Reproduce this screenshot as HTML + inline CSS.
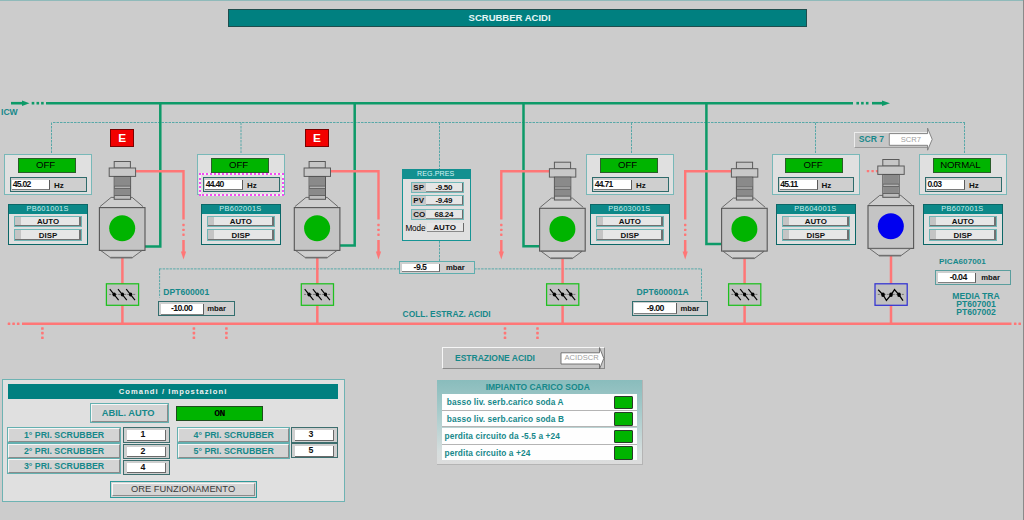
<!DOCTYPE html>
<html><head><meta charset="utf-8"><title>Scrubber Acidi</title>
<style>
html,body{margin:0;padding:0;background:#cccccc;}
#root{position:relative;width:1024px;height:520px;overflow:hidden;background:#cccccc;font-family:"Liberation Sans", sans-serif;}

</style></head><body>
<div id="root">
<div style="position:absolute;left:0;top:0;width:1024px;height:1px;background:#8fbaba"></div>
<div style="position:absolute;left:1023px;top:0;width:1px;height:520px;background:#8a8a8a"></div>
<svg width="1024" height="520" viewBox="0 0 1024 520" style="position:absolute;left:0;top:0"><defs><linearGradient id="bodyg" x1="0" x2="1" y1="0" y2="0"><stop offset="0" stop-color="#b9b9b9"/><stop offset="0.35" stop-color="#c6c6c6"/><stop offset="1" stop-color="#c8c8c8"/></linearGradient></defs><line x1="11" y1="103.2" x2="23" y2="103.2" stroke="#0d9a68" stroke-width="2.6"/><polygon points="22,100.4 29.5,103.2 22,106" fill="#0d9a68"/><rect x="31.7" y="101.9" width="2.6" height="2.6" fill="#0d9a68"/><rect x="36.5" y="101.9" width="2.6" height="2.6" fill="#0d9a68"/><rect x="41.1" y="101.9" width="2.6" height="2.6" fill="#0d9a68"/><line x1="46" y1="103.2" x2="853" y2="103.2" stroke="#0d9a68" stroke-width="2.6"/><rect x="856.4000000000001" y="101.9" width="2.6" height="2.6" fill="#0d9a68"/><rect x="861.1" y="101.9" width="2.6" height="2.6" fill="#0d9a68"/><rect x="865.9000000000001" y="101.9" width="2.6" height="2.6" fill="#0d9a68"/><line x1="872" y1="103.2" x2="883" y2="103.2" stroke="#0d9a68" stroke-width="2.6"/><polygon points="882,100.4 890,103.2 882,106" fill="#0d9a68"/><line x1="53" y1="122.5" x2="965" y2="122.5" stroke="#58a8a8" stroke-width="1" stroke-dasharray="2.5,1"/><line x1="51.5" y1="122.5" x2="51.5" y2="154" stroke="#58a8a8" stroke-width="1" stroke-dasharray="2.5,1"/><line x1="241" y1="122.5" x2="241" y2="154" stroke="#58a8a8" stroke-width="1" stroke-dasharray="2.5,1"/><line x1="439.5" y1="122.5" x2="439.5" y2="169" stroke="#58a8a8" stroke-width="1" stroke-dasharray="2.5,1"/><line x1="631.5" y1="122.5" x2="631.5" y2="154" stroke="#58a8a8" stroke-width="1" stroke-dasharray="2.5,1"/><line x1="815.5" y1="122.5" x2="815.5" y2="154" stroke="#58a8a8" stroke-width="1" stroke-dasharray="2.5,1"/><line x1="964.5" y1="122.5" x2="964.5" y2="154" stroke="#58a8a8" stroke-width="1" stroke-dasharray="2.5,1"/><line x1="159.1" y1="268.9" x2="702" y2="268.9" stroke="#58a8a8" stroke-width="1" stroke-dasharray="2.5,1"/><line x1="159.6" y1="269" x2="159.6" y2="297.5" stroke="#58a8a8" stroke-width="1" stroke-dasharray="2.5,1"/><line x1="701.5" y1="268.9" x2="701.5" y2="300.6" stroke="#58a8a8" stroke-width="1" stroke-dasharray="2.5,1"/><line x1="439.5" y1="241" x2="439.5" y2="261" stroke="#58a8a8" stroke-width="1" stroke-dasharray="2.5,1"/><line x1="22" y1="323.8" x2="1011.5" y2="323.8" stroke="#ff7676" stroke-width="2.5"/><rect x="7.7" y="322.5" width="2.6" height="2.6" rx="0.6" fill="#ff7676"/><rect x="12.299999999999999" y="322.5" width="2.6" height="2.6" rx="0.6" fill="#ff7676"/><rect x="16.9" y="322.5" width="2.6" height="2.6" rx="0.6" fill="#ff7676"/><rect x="1013.9000000000001" y="322.5" width="2.6" height="2.6" rx="0.6" fill="#ff7676"/><rect x="1018.4000000000001" y="322.5" width="2.6" height="2.6" rx="0.6" fill="#ff7676"/><rect x="41.1" y="327.2" width="2.6" height="2.6" rx="0.6" fill="#ff7676"/><rect x="41.1" y="331.8" width="2.6" height="2.6" rx="0.6" fill="#ff7676"/><rect x="41.1" y="336.4" width="2.6" height="2.6" rx="0.6" fill="#ff7676"/><rect x="192.6" y="327.2" width="2.6" height="2.6" rx="0.6" fill="#ff7676"/><rect x="192.6" y="331.8" width="2.6" height="2.6" rx="0.6" fill="#ff7676"/><rect x="192.6" y="336.4" width="2.6" height="2.6" rx="0.6" fill="#ff7676"/><rect x="225.1" y="327.2" width="2.6" height="2.6" rx="0.6" fill="#ff7676"/><rect x="225.1" y="331.8" width="2.6" height="2.6" rx="0.6" fill="#ff7676"/><rect x="225.1" y="336.4" width="2.6" height="2.6" rx="0.6" fill="#ff7676"/><rect x="503.7" y="327.2" width="2.6" height="2.6" rx="0.6" fill="#ff7676"/><rect x="503.7" y="331.8" width="2.6" height="2.6" rx="0.6" fill="#ff7676"/><rect x="503.7" y="336.4" width="2.6" height="2.6" rx="0.6" fill="#ff7676"/><rect x="536.2" y="327.2" width="2.6" height="2.6" rx="0.6" fill="#ff7676"/><rect x="536.2" y="331.8" width="2.6" height="2.6" rx="0.6" fill="#ff7676"/><rect x="536.2" y="336.4" width="2.6" height="2.6" rx="0.6" fill="#ff7676"/><polyline points="160.3,101.9 160.3,246.4 145.0,246.4" fill="none" stroke="#0d9a68" stroke-width="2.5"/><polyline points="135.6,171.2 183.5,171.2 183.5,219.5" fill="none" stroke="#ff7676" stroke-width="2.4"/><rect x="182.3" y="223.8" width="2.4" height="2.4" rx="0.6" fill="#ff7676"/><rect x="182.3" y="228.70000000000002" width="2.4" height="2.4" rx="0.6" fill="#ff7676"/><rect x="182.3" y="233.5" width="2.4" height="2.4" rx="0.6" fill="#ff7676"/><line x1="183.5" y1="240" x2="183.5" y2="252" stroke="#ff7676" stroke-width="2.5"/><polygon points="180.9,251.5 186.1,251.5 183.5,259.5" fill="#ff7676"/><line x1="122.4" y1="257" x2="122.4" y2="323.8" stroke="#ff7676" stroke-width="2.5"/><polygon points="111.10000000000001,197.4 132.20000000000002,197.4 143.0,207.4 100.0,207.4" fill="#cecece"/><polyline points="114.4,197.4 111.10000000000001,197.4 100.0,206.6" fill="none" stroke="#5e5e5e" stroke-width="0.9"/><polyline points="130.4,197.4 132.20000000000002,197.4 143.0,206.6" fill="none" stroke="#5e5e5e" stroke-width="0.9"/><rect x="114.2" y="161.5" width="16.2" height="6.6" fill="#c6c6c6" stroke="#5a5a5a" stroke-width="1"/><rect x="109.2" y="168" width="26.4" height="8.4" fill="#c8c8c8" stroke="#5a5a5a" stroke-width="1"/><rect x="114.2" y="176.5" width="16.4" height="22.8" fill="#bdbdbd" stroke="#555" stroke-width="1"/><rect x="114.7" y="177" width="15.4" height="9" fill="#8a8a8a"/><rect x="114.7" y="188.3" width="15.4" height="7.2" fill="#8a8a8a"/><line x1="114.4" y1="186.2" x2="130.4" y2="186.2" stroke="#555" stroke-width="0.8"/><line x1="114.4" y1="188.4" x2="130.4" y2="188.4" stroke="#555" stroke-width="0.8"/><line x1="114.4" y1="195.5" x2="130.4" y2="195.5" stroke="#555" stroke-width="0.8"/><rect x="99.4" y="207.6" width="45.6" height="42.8" fill="#c4c4c4" stroke="#555" stroke-width="1.1"/><polygon points="100.9,250.6 141.9,250.6 132.4,257.6 110.4,257.6" fill="#cfcfcf" stroke="#606060" stroke-width="0.9"/><line x1="110.4" y1="257.6" x2="132.4" y2="257.6" stroke="#707070" stroke-width="1.6"/><circle cx="122.2" cy="228.2" r="13" fill="#00b400"/><rect x="106.4" y="283.8" width="32.2" height="21.5" fill="#c0c0c0" stroke="#1ec01e" stroke-width="1.25"/><line x1="109.2" y1="294.4" x2="135.2" y2="294.4" stroke="#666" stroke-width="0.9" stroke-dasharray="2,1"/><line x1="109.8" y1="289.2" x2="118.60000000000001" y2="300.2" stroke="#000" stroke-width="1.1"/><ellipse cx="114.2" cy="294.5" rx="1.7" ry="2.1" fill="#000"/><line x1="118.0" y1="289.2" x2="126.80000000000001" y2="300.2" stroke="#000" stroke-width="1.1"/><ellipse cx="122.4" cy="294.5" rx="1.7" ry="2.1" fill="#000"/><line x1="126.19999999999999" y1="289.2" x2="135.0" y2="300.2" stroke="#000" stroke-width="1.1"/><ellipse cx="130.6" cy="294.5" rx="1.7" ry="2.1" fill="#000"/><polyline points="354.7,101.9 354.7,245.4 339.90000000000003,245.4" fill="none" stroke="#0d9a68" stroke-width="2.5"/><polyline points="330.5,171.2 378.5,171.2 378.5,219.5" fill="none" stroke="#ff7676" stroke-width="2.4"/><rect x="377.3" y="223.8" width="2.4" height="2.4" rx="0.6" fill="#ff7676"/><rect x="377.3" y="228.70000000000002" width="2.4" height="2.4" rx="0.6" fill="#ff7676"/><rect x="377.3" y="233.5" width="2.4" height="2.4" rx="0.6" fill="#ff7676"/><line x1="378.5" y1="240" x2="378.5" y2="252" stroke="#ff7676" stroke-width="2.5"/><polygon points="375.9,251.5 381.1,251.5 378.5,259.5" fill="#ff7676"/><line x1="317.3" y1="257" x2="317.3" y2="323.8" stroke="#ff7676" stroke-width="2.5"/><polygon points="306.0,197.4 327.1,197.4 337.90000000000003,207.4 294.90000000000003,207.4" fill="#cecece"/><polyline points="309.3,197.4 306.0,197.4 294.90000000000003,206.6" fill="none" stroke="#5e5e5e" stroke-width="0.9"/><polyline points="325.3,197.4 327.1,197.4 337.90000000000003,206.6" fill="none" stroke="#5e5e5e" stroke-width="0.9"/><rect x="309.1" y="161.5" width="16.2" height="6.6" fill="#c6c6c6" stroke="#5a5a5a" stroke-width="1"/><rect x="304.1" y="168" width="26.4" height="8.4" fill="#c8c8c8" stroke="#5a5a5a" stroke-width="1"/><rect x="309.1" y="176.5" width="16.4" height="22.8" fill="#bdbdbd" stroke="#555" stroke-width="1"/><rect x="309.6" y="177" width="15.4" height="9" fill="#8a8a8a"/><rect x="309.6" y="188.3" width="15.4" height="7.2" fill="#8a8a8a"/><line x1="309.3" y1="186.2" x2="325.3" y2="186.2" stroke="#555" stroke-width="0.8"/><line x1="309.3" y1="188.4" x2="325.3" y2="188.4" stroke="#555" stroke-width="0.8"/><line x1="309.3" y1="195.5" x2="325.3" y2="195.5" stroke="#555" stroke-width="0.8"/><rect x="294.3" y="207.6" width="45.6" height="42.8" fill="#c4c4c4" stroke="#555" stroke-width="1.1"/><polygon points="295.8,250.6 336.8,250.6 327.3,257.6 305.3,257.6" fill="#cfcfcf" stroke="#606060" stroke-width="0.9"/><line x1="305.3" y1="257.6" x2="327.3" y2="257.6" stroke="#707070" stroke-width="1.6"/><circle cx="317.1" cy="228.2" r="13" fill="#00b400"/><rect x="301.3" y="283.8" width="32.2" height="21.5" fill="#c0c0c0" stroke="#1ec01e" stroke-width="1.25"/><line x1="304.1" y1="294.4" x2="330.1" y2="294.4" stroke="#666" stroke-width="0.9" stroke-dasharray="2,1"/><line x1="304.70000000000005" y1="289.2" x2="313.5" y2="300.2" stroke="#000" stroke-width="1.1"/><ellipse cx="309.1" cy="294.5" rx="1.7" ry="2.1" fill="#000"/><line x1="312.90000000000003" y1="289.2" x2="321.7" y2="300.2" stroke="#000" stroke-width="1.1"/><ellipse cx="317.3" cy="294.5" rx="1.7" ry="2.1" fill="#000"/><line x1="321.1" y1="289.2" x2="329.9" y2="300.2" stroke="#000" stroke-width="1.1"/><ellipse cx="325.5" cy="294.5" rx="1.7" ry="2.1" fill="#000"/><polyline points="523.5,101.9 523.5,246.2 539.4,246.2" fill="none" stroke="#0d9a68" stroke-width="2.5"/><polyline points="549.4,171.2 501.3,171.2 501.3,219.5" fill="none" stroke="#ff7676" stroke-width="2.4"/><rect x="500.1" y="223.8" width="2.4" height="2.4" rx="0.6" fill="#ff7676"/><rect x="500.1" y="228.70000000000002" width="2.4" height="2.4" rx="0.6" fill="#ff7676"/><rect x="500.1" y="233.5" width="2.4" height="2.4" rx="0.6" fill="#ff7676"/><line x1="501.3" y1="240" x2="501.3" y2="252" stroke="#ff7676" stroke-width="2.5"/><polygon points="498.7,251.5 503.90000000000003,251.5 501.3,259.5" fill="#ff7676"/><line x1="562.6" y1="257.7" x2="562.6" y2="323.8" stroke="#ff7676" stroke-width="2.5"/><polygon points="551.3000000000001,198.1 572.4,198.1 583.2,208.1 540.2,208.1" fill="#cecece"/><polyline points="554.6,198.1 551.3000000000001,198.1 540.2,207.29999999999998" fill="none" stroke="#5e5e5e" stroke-width="0.9"/><polyline points="570.6,198.1 572.4,198.1 583.2,207.29999999999998" fill="none" stroke="#5e5e5e" stroke-width="0.9"/><rect x="554.4" y="162.2" width="16.2" height="6.6" fill="#c6c6c6" stroke="#5a5a5a" stroke-width="1"/><rect x="549.4" y="168.7" width="26.4" height="8.4" fill="#c8c8c8" stroke="#5a5a5a" stroke-width="1"/><rect x="554.4" y="177.2" width="16.4" height="22.8" fill="#bdbdbd" stroke="#555" stroke-width="1"/><rect x="554.9" y="177.7" width="15.4" height="9" fill="#8a8a8a"/><rect x="554.9" y="189.0" width="15.4" height="7.2" fill="#8a8a8a"/><line x1="554.6" y1="186.89999999999998" x2="570.6" y2="186.89999999999998" stroke="#555" stroke-width="0.8"/><line x1="554.6" y1="189.1" x2="570.6" y2="189.1" stroke="#555" stroke-width="0.8"/><line x1="554.6" y1="196.2" x2="570.6" y2="196.2" stroke="#555" stroke-width="0.8"/><rect x="539.6" y="208.29999999999998" width="45.6" height="42.8" fill="#c4c4c4" stroke="#555" stroke-width="1.1"/><polygon points="541.1,251.29999999999998 582.1,251.29999999999998 572.6,258.3 550.6,258.3" fill="#cfcfcf" stroke="#606060" stroke-width="0.9"/><line x1="550.6" y1="258.3" x2="572.6" y2="258.3" stroke="#707070" stroke-width="1.6"/><circle cx="562.4" cy="228.89999999999998" r="13" fill="#00b400"/><rect x="546.6" y="283.8" width="32.2" height="21.5" fill="#c0c0c0" stroke="#1ec01e" stroke-width="1.25"/><line x1="549.4" y1="294.4" x2="575.4" y2="294.4" stroke="#666" stroke-width="0.9" stroke-dasharray="2,1"/><line x1="550.0" y1="289.2" x2="558.8" y2="300.2" stroke="#000" stroke-width="1.1"/><ellipse cx="554.4" cy="294.5" rx="1.7" ry="2.1" fill="#000"/><line x1="558.2" y1="289.2" x2="567.0" y2="300.2" stroke="#000" stroke-width="1.1"/><ellipse cx="562.6" cy="294.5" rx="1.7" ry="2.1" fill="#000"/><line x1="566.4000000000001" y1="289.2" x2="575.2" y2="300.2" stroke="#000" stroke-width="1.1"/><ellipse cx="570.8000000000001" cy="294.5" rx="1.7" ry="2.1" fill="#000"/><polyline points="706.4,101.9 706.4,244.0 721.4,244.0" fill="none" stroke="#0d9a68" stroke-width="2.5"/><polyline points="731.4,171.2 685.2,171.2 685.2,219.5" fill="none" stroke="#ff7676" stroke-width="2.4"/><rect x="684.0" y="223.8" width="2.4" height="2.4" rx="0.6" fill="#ff7676"/><rect x="684.0" y="228.70000000000002" width="2.4" height="2.4" rx="0.6" fill="#ff7676"/><rect x="684.0" y="233.5" width="2.4" height="2.4" rx="0.6" fill="#ff7676"/><line x1="685.2" y1="240" x2="685.2" y2="252" stroke="#ff7676" stroke-width="2.5"/><polygon points="682.6,251.5 687.8000000000001,251.5 685.2,259.5" fill="#ff7676"/><line x1="744.6" y1="257.7" x2="744.6" y2="323.8" stroke="#ff7676" stroke-width="2.5"/><polygon points="733.3000000000001,198.1 754.4,198.1 765.2,208.1 722.2,208.1" fill="#cecece"/><polyline points="736.6,198.1 733.3000000000001,198.1 722.2,207.29999999999998" fill="none" stroke="#5e5e5e" stroke-width="0.9"/><polyline points="752.6,198.1 754.4,198.1 765.2,207.29999999999998" fill="none" stroke="#5e5e5e" stroke-width="0.9"/><rect x="736.4" y="162.2" width="16.2" height="6.6" fill="#c6c6c6" stroke="#5a5a5a" stroke-width="1"/><rect x="731.4" y="168.7" width="26.4" height="8.4" fill="#c8c8c8" stroke="#5a5a5a" stroke-width="1"/><rect x="736.4" y="177.2" width="16.4" height="22.8" fill="#bdbdbd" stroke="#555" stroke-width="1"/><rect x="736.9" y="177.7" width="15.4" height="9" fill="#8a8a8a"/><rect x="736.9" y="189.0" width="15.4" height="7.2" fill="#8a8a8a"/><line x1="736.6" y1="186.89999999999998" x2="752.6" y2="186.89999999999998" stroke="#555" stroke-width="0.8"/><line x1="736.6" y1="189.1" x2="752.6" y2="189.1" stroke="#555" stroke-width="0.8"/><line x1="736.6" y1="196.2" x2="752.6" y2="196.2" stroke="#555" stroke-width="0.8"/><rect x="721.6" y="208.29999999999998" width="45.6" height="42.8" fill="#c4c4c4" stroke="#555" stroke-width="1.1"/><polygon points="723.1,251.29999999999998 764.1,251.29999999999998 754.6,258.3 732.6,258.3" fill="#cfcfcf" stroke="#606060" stroke-width="0.9"/><line x1="732.6" y1="258.3" x2="754.6" y2="258.3" stroke="#707070" stroke-width="1.6"/><circle cx="744.4" cy="228.89999999999998" r="13" fill="#00b400"/><rect x="728.6" y="283.8" width="32.2" height="21.5" fill="#c0c0c0" stroke="#1ec01e" stroke-width="1.25"/><line x1="731.4" y1="294.4" x2="757.4" y2="294.4" stroke="#666" stroke-width="0.9" stroke-dasharray="2,1"/><line x1="732.0" y1="289.2" x2="740.8" y2="300.2" stroke="#000" stroke-width="1.1"/><ellipse cx="736.4" cy="294.5" rx="1.7" ry="2.1" fill="#000"/><line x1="740.2" y1="289.2" x2="749.0" y2="300.2" stroke="#000" stroke-width="1.1"/><ellipse cx="744.6" cy="294.5" rx="1.7" ry="2.1" fill="#000"/><line x1="748.4000000000001" y1="289.2" x2="757.2" y2="300.2" stroke="#000" stroke-width="1.1"/><ellipse cx="752.8000000000001" cy="294.5" rx="1.7" ry="2.1" fill="#000"/><rect x="866.8" y="169.9" width="2.4" height="2.4" rx="0.6" fill="#ff7676"/><rect x="871.4" y="169.9" width="2.4" height="2.4" rx="0.6" fill="#ff7676"/><rect x="875.9" y="169.9" width="2.4" height="2.4" rx="0.6" fill="#ff7676"/><line x1="891.0" y1="255" x2="891.0" y2="323.8" stroke="#ff7676" stroke-width="2.5"/><polygon points="879.7,195.4 900.8,195.4 911.6,205.4 868.6,205.4" fill="#cecece"/><polyline points="883.0,195.4 879.7,195.4 868.6,204.6" fill="none" stroke="#5e5e5e" stroke-width="0.9"/><polyline points="899.0,195.4 900.8,195.4 911.6,204.6" fill="none" stroke="#5e5e5e" stroke-width="0.9"/><rect x="882.8" y="159.5" width="16.2" height="6.6" fill="#c6c6c6" stroke="#5a5a5a" stroke-width="1"/><rect x="877.8" y="166" width="26.4" height="8.4" fill="#c8c8c8" stroke="#5a5a5a" stroke-width="1"/><rect x="882.8" y="174.5" width="16.4" height="22.8" fill="#bdbdbd" stroke="#555" stroke-width="1"/><rect x="883.3" y="175" width="15.4" height="9" fill="#8a8a8a"/><rect x="883.3" y="186.3" width="15.4" height="7.2" fill="#8a8a8a"/><line x1="883.0" y1="184.2" x2="899.0" y2="184.2" stroke="#555" stroke-width="0.8"/><line x1="883.0" y1="186.4" x2="899.0" y2="186.4" stroke="#555" stroke-width="0.8"/><line x1="883.0" y1="193.5" x2="899.0" y2="193.5" stroke="#555" stroke-width="0.8"/><rect x="868.0" y="205.6" width="45.6" height="42.8" fill="#c4c4c4" stroke="#555" stroke-width="1.1"/><polygon points="869.5,248.6 910.5,248.6 901.0,255.60000000000002 879.0,255.60000000000002" fill="#cfcfcf" stroke="#606060" stroke-width="0.9"/><line x1="879.0" y1="255.60000000000002" x2="901.0" y2="255.60000000000002" stroke="#707070" stroke-width="1.6"/><circle cx="890.8" cy="226.2" r="13" fill="#0000f0"/><rect x="875.0" y="283.8" width="32.2" height="21.5" fill="#c0c0c0" stroke="#3232d2" stroke-width="1.25"/><line x1="877.8" y1="294.4" x2="903.8" y2="294.4" stroke="#666" stroke-width="0.9" stroke-dasharray="2,1"/><polyline points="878.2,289.8 883.0,294.8 886.4,300.4 891.0,294.8 894.5,289.6 899.0,294.8 903.0,300.6" fill="none" stroke="#000" stroke-width="1.25"/><ellipse cx="883.0" cy="294.8" rx="1.8" ry="2.2" fill="#000"/><ellipse cx="891.0" cy="294.8" rx="1.8" ry="2.2" fill="#000"/><ellipse cx="899.0" cy="294.8" rx="1.8" ry="2.2" fill="#000"/></svg>
<div style="position:absolute;left:110.4px;top:129.2px;width:23.4px;height:17.4px;background:#f20000;border:1px solid #7a0000;box-sizing:border-box;"></div><div style="position:absolute;left:110.4px;top:133.1px;width:23.4px;text-align:center;font-size:11.8px;font-weight:bold;color:#fff;line-height:1;white-space:nowrap;">E</div><div style="position:absolute;left:305.3px;top:129.2px;width:23.4px;height:17.4px;background:#f20000;border:1px solid #7a0000;box-sizing:border-box;"></div><div style="position:absolute;left:305.3px;top:133.1px;width:23.4px;text-align:center;font-size:11.8px;font-weight:bold;color:#fff;line-height:1;white-space:nowrap;">E</div><div style="position:absolute;left:4.3px;top:154.3px;width:88px;height:41px;background:#e0e0e0;border:1px solid #78b8b8;box-sizing:border-box;"></div><div style="position:absolute;left:17.6px;top:157.7px;width:58.4px;height:15px;background:#00b400;border:1px solid #2b5d2b;box-sizing:border-box;"></div><div style="position:absolute;left:16.4px;top:159.9px;width:58.2px;text-align:center;font-size:9.6px;font-weight:normal;color:#000;line-height:1;white-space:nowrap;letter-spacing:-0.1px;">OFF</div><div style="position:absolute;left:10.1px;top:177.2px;width:76.6px;height:14.6px;background:#cfcfcf;border:1.3px solid #2f6b6b;box-sizing:border-box;"></div><div style="position:absolute;left:12.3px;top:179.8px;width:38px;height:10px;background:#fff;border-right:1.2px solid #5a5a5a;border-bottom:1.2px solid #7a7a7a;box-sizing:border-box;"></div><div style="position:absolute;left:12.7px;top:180.4px;font-size:8.6px;font-weight:bold;color:#111;line-height:1;white-space:nowrap;letter-spacing:-0.75px;">45.02</div><div style="position:absolute;left:54.099999999999994px;top:181.5px;font-size:8px;font-weight:bold;color:#111;line-height:1;white-space:nowrap;">Hz</div><div style="position:absolute;left:197.3px;top:154.3px;width:88px;height:41px;background:#e0e0e0;border:1px solid #78b8b8;box-sizing:border-box;"></div><div style="position:absolute;left:210.60000000000002px;top:157.7px;width:58.4px;height:15px;background:#00b400;border:1px solid #2b5d2b;box-sizing:border-box;"></div><div style="position:absolute;left:209.4px;top:159.9px;width:58.2px;text-align:center;font-size:9.6px;font-weight:normal;color:#000;line-height:1;white-space:nowrap;letter-spacing:-0.1px;">OFF</div><div style="position:absolute;left:199.0px;top:173.2px;width:85.2px;height:22.6px;border:2px solid #f2f2f2;box-sizing:border-box;"></div><div style="position:absolute;left:199.0px;top:173.2px;width:85.2px;height:22.6px;border:2px dotted #f24cf2;box-sizing:border-box;"></div><div style="position:absolute;left:203.10000000000002px;top:177.2px;width:76.6px;height:14.6px;background:#cfcfcf;border:1.3px solid #2f6b6b;box-sizing:border-box;"></div><div style="position:absolute;left:205.3px;top:179.8px;width:38px;height:10px;background:#fff;border-right:1.2px solid #5a5a5a;border-bottom:1.2px solid #7a7a7a;box-sizing:border-box;"></div><div style="position:absolute;left:205.70000000000002px;top:180.4px;font-size:8.6px;font-weight:bold;color:#111;line-height:1;white-space:nowrap;letter-spacing:-0.75px;">44.40</div><div style="position:absolute;left:247.10000000000002px;top:181.5px;font-size:8px;font-weight:bold;color:#111;line-height:1;white-space:nowrap;">Hz</div><div style="position:absolute;left:586.3px;top:154.3px;width:88px;height:41px;background:#e0e0e0;border:1px solid #78b8b8;box-sizing:border-box;"></div><div style="position:absolute;left:599.5999999999999px;top:157.7px;width:58.4px;height:15px;background:#00b400;border:1px solid #2b5d2b;box-sizing:border-box;"></div><div style="position:absolute;left:598.4px;top:159.9px;width:58.2px;text-align:center;font-size:9.6px;font-weight:normal;color:#000;line-height:1;white-space:nowrap;letter-spacing:-0.1px;">OFF</div><div style="position:absolute;left:592.0999999999999px;top:177.2px;width:76.6px;height:14.6px;background:#cfcfcf;border:1.3px solid #2f6b6b;box-sizing:border-box;"></div><div style="position:absolute;left:594.3px;top:179.8px;width:38px;height:10px;background:#fff;border-right:1.2px solid #5a5a5a;border-bottom:1.2px solid #7a7a7a;box-sizing:border-box;"></div><div style="position:absolute;left:594.6999999999999px;top:180.4px;font-size:8.6px;font-weight:bold;color:#111;line-height:1;white-space:nowrap;letter-spacing:-0.75px;">44.71</div><div style="position:absolute;left:636.0999999999999px;top:181.5px;font-size:8px;font-weight:bold;color:#111;line-height:1;white-space:nowrap;">Hz</div><div style="position:absolute;left:771.8px;top:154.3px;width:88px;height:41px;background:#e0e0e0;border:1px solid #78b8b8;box-sizing:border-box;"></div><div style="position:absolute;left:785.0999999999999px;top:157.7px;width:58.4px;height:15px;background:#00b400;border:1px solid #2b5d2b;box-sizing:border-box;"></div><div style="position:absolute;left:783.9px;top:159.9px;width:58.2px;text-align:center;font-size:9.6px;font-weight:normal;color:#000;line-height:1;white-space:nowrap;letter-spacing:-0.1px;">OFF</div><div style="position:absolute;left:777.5999999999999px;top:177.2px;width:76.6px;height:14.6px;background:#cfcfcf;border:1.3px solid #2f6b6b;box-sizing:border-box;"></div><div style="position:absolute;left:779.8px;top:179.8px;width:38px;height:10px;background:#fff;border-right:1.2px solid #5a5a5a;border-bottom:1.2px solid #7a7a7a;box-sizing:border-box;"></div><div style="position:absolute;left:780.1999999999999px;top:180.4px;font-size:8.6px;font-weight:bold;color:#111;line-height:1;white-space:nowrap;letter-spacing:-0.75px;">45.11</div><div style="position:absolute;left:821.5999999999999px;top:181.5px;font-size:8px;font-weight:bold;color:#111;line-height:1;white-space:nowrap;">Hz</div><div style="position:absolute;left:919.2px;top:154.3px;width:88px;height:41px;background:#e0e0e0;border:1px solid #78b8b8;box-sizing:border-box;"></div><div style="position:absolute;left:932.5px;top:157.7px;width:58.4px;height:15px;background:#00b400;border:1px solid #2b5d2b;box-sizing:border-box;"></div><div style="position:absolute;left:931.3000000000001px;top:159.9px;width:58.2px;text-align:center;font-size:9.6px;font-weight:normal;color:#000;line-height:1;white-space:nowrap;letter-spacing:-0.1px;">NORMAL</div><div style="position:absolute;left:925.0px;top:177.2px;width:76.6px;height:14.6px;background:#cfcfcf;border:1.3px solid #2f6b6b;box-sizing:border-box;"></div><div style="position:absolute;left:927.2px;top:179.8px;width:38px;height:10px;background:#fff;border-right:1.2px solid #5a5a5a;border-bottom:1.2px solid #7a7a7a;box-sizing:border-box;"></div><div style="position:absolute;left:927.6px;top:180.4px;font-size:8.6px;font-weight:bold;color:#111;line-height:1;white-space:nowrap;letter-spacing:-0.75px;">0.03</div><div style="position:absolute;left:969.0px;top:181.5px;font-size:8px;font-weight:bold;color:#111;line-height:1;white-space:nowrap;">Hz</div><div style="position:absolute;left:8.2px;top:203.6px;width:80px;height:41.2px;background:#e0e0e0;border:1.3px solid #0b6767;box-sizing:border-box;"></div><div style="position:absolute;left:9.2px;top:204.6px;width:78px;height:9.5px;background:#0c8888;"></div><div style="position:absolute;left:7.6px;top:204.9px;width:80px;text-align:center;font-size:7.4px;font-weight:normal;color:#cdeeee;line-height:1;white-space:nowrap;letter-spacing:0.33px;">PB601001S</div><div style="position:absolute;left:14.2px;top:215.6px;width:67.6px;height:11.6px;background:#e6e6e6;border:1px solid #6fb6b6;box-sizing:border-box;"></div><div style="position:absolute;left:15.2px;top:216.6px;width:5.5px;height:9.6px;background:#c4c4c4;"></div><div style="position:absolute;left:15.2px;top:224.79999999999998px;width:65.6px;height:1.4px;background:#707070;"></div><div style="position:absolute;left:79.4px;top:216.6px;width:1.4px;height:9.6px;background:#707070;"></div><div style="position:absolute;left:14.2px;top:217.79999999999998px;width:67.6px;text-align:center;font-size:7.9px;font-weight:bold;color:#111;line-height:1;white-space:nowrap;">AUTO</div><div style="position:absolute;left:14.2px;top:229.4px;width:67.6px;height:11.6px;background:#e6e6e6;border:1px solid #6fb6b6;box-sizing:border-box;"></div><div style="position:absolute;left:15.2px;top:230.4px;width:5.5px;height:9.6px;background:#c4c4c4;"></div><div style="position:absolute;left:15.2px;top:238.6px;width:65.6px;height:1.4px;background:#707070;"></div><div style="position:absolute;left:79.4px;top:230.4px;width:1.4px;height:9.6px;background:#707070;"></div><div style="position:absolute;left:14.2px;top:231.6px;width:67.6px;text-align:center;font-size:7.9px;font-weight:bold;color:#111;line-height:1;white-space:nowrap;">DISP</div><div style="position:absolute;left:201px;top:203.6px;width:80px;height:41.2px;background:#e0e0e0;border:1.3px solid #0b6767;box-sizing:border-box;"></div><div style="position:absolute;left:202px;top:204.6px;width:78px;height:9.5px;background:#0c8888;"></div><div style="position:absolute;left:200.4px;top:204.9px;width:80px;text-align:center;font-size:7.4px;font-weight:normal;color:#cdeeee;line-height:1;white-space:nowrap;letter-spacing:0.33px;">PB602001S</div><div style="position:absolute;left:207px;top:215.6px;width:67.6px;height:11.6px;background:#e6e6e6;border:1px solid #6fb6b6;box-sizing:border-box;"></div><div style="position:absolute;left:208px;top:216.6px;width:5.5px;height:9.6px;background:#c4c4c4;"></div><div style="position:absolute;left:208px;top:224.79999999999998px;width:65.6px;height:1.4px;background:#707070;"></div><div style="position:absolute;left:272.2px;top:216.6px;width:1.4px;height:9.6px;background:#707070;"></div><div style="position:absolute;left:207px;top:217.79999999999998px;width:67.6px;text-align:center;font-size:7.9px;font-weight:bold;color:#111;line-height:1;white-space:nowrap;">AUTO</div><div style="position:absolute;left:207px;top:229.4px;width:67.6px;height:11.6px;background:#e6e6e6;border:1px solid #6fb6b6;box-sizing:border-box;"></div><div style="position:absolute;left:208px;top:230.4px;width:5.5px;height:9.6px;background:#c4c4c4;"></div><div style="position:absolute;left:208px;top:238.6px;width:65.6px;height:1.4px;background:#707070;"></div><div style="position:absolute;left:272.2px;top:230.4px;width:1.4px;height:9.6px;background:#707070;"></div><div style="position:absolute;left:207px;top:231.6px;width:67.6px;text-align:center;font-size:7.9px;font-weight:bold;color:#111;line-height:1;white-space:nowrap;">DISP</div><div style="position:absolute;left:590px;top:203.6px;width:80px;height:41.2px;background:#e0e0e0;border:1.3px solid #0b6767;box-sizing:border-box;"></div><div style="position:absolute;left:591px;top:204.6px;width:78px;height:9.5px;background:#0c8888;"></div><div style="position:absolute;left:589.4px;top:204.9px;width:80px;text-align:center;font-size:7.4px;font-weight:normal;color:#cdeeee;line-height:1;white-space:nowrap;letter-spacing:0.33px;">PB603001S</div><div style="position:absolute;left:596px;top:215.6px;width:67.6px;height:11.6px;background:#e6e6e6;border:1px solid #6fb6b6;box-sizing:border-box;"></div><div style="position:absolute;left:597px;top:216.6px;width:5.5px;height:9.6px;background:#c4c4c4;"></div><div style="position:absolute;left:597px;top:224.79999999999998px;width:65.6px;height:1.4px;background:#707070;"></div><div style="position:absolute;left:661.2px;top:216.6px;width:1.4px;height:9.6px;background:#707070;"></div><div style="position:absolute;left:596px;top:217.79999999999998px;width:67.6px;text-align:center;font-size:7.9px;font-weight:bold;color:#111;line-height:1;white-space:nowrap;">AUTO</div><div style="position:absolute;left:596px;top:229.4px;width:67.6px;height:11.6px;background:#e6e6e6;border:1px solid #6fb6b6;box-sizing:border-box;"></div><div style="position:absolute;left:597px;top:230.4px;width:5.5px;height:9.6px;background:#c4c4c4;"></div><div style="position:absolute;left:597px;top:238.6px;width:65.6px;height:1.4px;background:#707070;"></div><div style="position:absolute;left:661.2px;top:230.4px;width:1.4px;height:9.6px;background:#707070;"></div><div style="position:absolute;left:596px;top:231.6px;width:67.6px;text-align:center;font-size:7.9px;font-weight:bold;color:#111;line-height:1;white-space:nowrap;">DISP</div><div style="position:absolute;left:776px;top:203.6px;width:80px;height:41.2px;background:#e0e0e0;border:1.3px solid #0b6767;box-sizing:border-box;"></div><div style="position:absolute;left:777px;top:204.6px;width:78px;height:9.5px;background:#0c8888;"></div><div style="position:absolute;left:775.4px;top:204.9px;width:80px;text-align:center;font-size:7.4px;font-weight:normal;color:#cdeeee;line-height:1;white-space:nowrap;letter-spacing:0.33px;">PB604001S</div><div style="position:absolute;left:782px;top:215.6px;width:67.6px;height:11.6px;background:#e6e6e6;border:1px solid #6fb6b6;box-sizing:border-box;"></div><div style="position:absolute;left:783px;top:216.6px;width:5.5px;height:9.6px;background:#c4c4c4;"></div><div style="position:absolute;left:783px;top:224.79999999999998px;width:65.6px;height:1.4px;background:#707070;"></div><div style="position:absolute;left:847.2px;top:216.6px;width:1.4px;height:9.6px;background:#707070;"></div><div style="position:absolute;left:782px;top:217.79999999999998px;width:67.6px;text-align:center;font-size:7.9px;font-weight:bold;color:#111;line-height:1;white-space:nowrap;">AUTO</div><div style="position:absolute;left:782px;top:229.4px;width:67.6px;height:11.6px;background:#e6e6e6;border:1px solid #6fb6b6;box-sizing:border-box;"></div><div style="position:absolute;left:783px;top:230.4px;width:5.5px;height:9.6px;background:#c4c4c4;"></div><div style="position:absolute;left:783px;top:238.6px;width:65.6px;height:1.4px;background:#707070;"></div><div style="position:absolute;left:847.2px;top:230.4px;width:1.4px;height:9.6px;background:#707070;"></div><div style="position:absolute;left:782px;top:231.6px;width:67.6px;text-align:center;font-size:7.9px;font-weight:bold;color:#111;line-height:1;white-space:nowrap;">DISP</div><div style="position:absolute;left:923px;top:203.6px;width:80px;height:41.2px;background:#e0e0e0;border:1.3px solid #0b6767;box-sizing:border-box;"></div><div style="position:absolute;left:924px;top:204.6px;width:78px;height:9.5px;background:#0c8888;"></div><div style="position:absolute;left:922.4px;top:204.9px;width:80px;text-align:center;font-size:7.4px;font-weight:normal;color:#cdeeee;line-height:1;white-space:nowrap;letter-spacing:0.33px;">PB607001S</div><div style="position:absolute;left:929px;top:215.6px;width:67.6px;height:11.6px;background:#e6e6e6;border:1px solid #6fb6b6;box-sizing:border-box;"></div><div style="position:absolute;left:930px;top:216.6px;width:5.5px;height:9.6px;background:#c4c4c4;"></div><div style="position:absolute;left:930px;top:224.79999999999998px;width:65.6px;height:1.4px;background:#707070;"></div><div style="position:absolute;left:994.2px;top:216.6px;width:1.4px;height:9.6px;background:#707070;"></div><div style="position:absolute;left:929px;top:217.79999999999998px;width:67.6px;text-align:center;font-size:7.9px;font-weight:bold;color:#111;line-height:1;white-space:nowrap;">AUTO</div><div style="position:absolute;left:929px;top:229.4px;width:67.6px;height:11.6px;background:#e6e6e6;border:1px solid #6fb6b6;box-sizing:border-box;"></div><div style="position:absolute;left:930px;top:230.4px;width:5.5px;height:9.6px;background:#c4c4c4;"></div><div style="position:absolute;left:930px;top:238.6px;width:65.6px;height:1.4px;background:#707070;"></div><div style="position:absolute;left:994.2px;top:230.4px;width:1.4px;height:9.6px;background:#707070;"></div><div style="position:absolute;left:929px;top:231.6px;width:67.6px;text-align:center;font-size:7.9px;font-weight:bold;color:#111;line-height:1;white-space:nowrap;">DISP</div><div style="position:absolute;left:402.3px;top:169.3px;width:68.4px;height:71.6px;background:#e0e0e0;border:1.8px solid #169494;box-sizing:border-box;"></div><div style="position:absolute;left:402.3px;top:169.3px;width:68.4px;height:10.2px;background:#129090;"></div><div style="position:absolute;left:401.5px;top:171.3px;width:68.4px;text-align:center;font-size:7.1px;font-weight:normal;color:#d8f4f4;line-height:1;white-space:nowrap;letter-spacing:0.1px;">REG.PRES</div><div style="position:absolute;left:410.5px;top:181.6px;width:53px;height:11.2px;background:#c8c8c8;border:1px solid #72b8b8;box-sizing:border-box;"></div><div style="position:absolute;left:425.8px;top:182.6px;width:36.8px;height:9.2px;background:#e6e6e6;border-right:1.2px solid #6a6a6a;border-bottom:1.2px solid #8a8a8a;box-sizing:border-box;"></div><div style="position:absolute;left:413.3px;top:183.6px;font-size:8px;font-weight:bold;color:#111;line-height:1;white-space:nowrap;">SP</div><div style="position:absolute;left:425.8px;top:183.6px;width:36px;text-align:center;font-size:8px;font-weight:bold;color:#111;line-height:1;white-space:nowrap;letter-spacing:-0.3px;">-9.50</div><div style="position:absolute;left:410.5px;top:195.1px;width:53px;height:11.2px;background:#c8c8c8;border:1px solid #72b8b8;box-sizing:border-box;"></div><div style="position:absolute;left:425.8px;top:196.1px;width:36.8px;height:9.2px;background:#e6e6e6;border-right:1.2px solid #6a6a6a;border-bottom:1.2px solid #8a8a8a;box-sizing:border-box;"></div><div style="position:absolute;left:413.3px;top:197.1px;font-size:8px;font-weight:bold;color:#111;line-height:1;white-space:nowrap;">PV</div><div style="position:absolute;left:425.8px;top:197.1px;width:36px;text-align:center;font-size:8px;font-weight:bold;color:#111;line-height:1;white-space:nowrap;letter-spacing:-0.3px;">-9.49</div><div style="position:absolute;left:410.5px;top:209.3px;width:53px;height:11.2px;background:#c8c8c8;border:1px solid #72b8b8;box-sizing:border-box;"></div><div style="position:absolute;left:425.8px;top:210.3px;width:36.8px;height:9.2px;background:#e6e6e6;border-right:1.2px solid #6a6a6a;border-bottom:1.2px solid #8a8a8a;box-sizing:border-box;"></div><div style="position:absolute;left:413.3px;top:211.3px;font-size:8px;font-weight:bold;color:#111;line-height:1;white-space:nowrap;">CO</div><div style="position:absolute;left:425.8px;top:211.3px;width:36px;text-align:center;font-size:8px;font-weight:bold;color:#111;line-height:1;white-space:nowrap;letter-spacing:-0.3px;">68.24</div><div style="position:absolute;left:405.4px;top:225.0px;font-size:8.2px;font-weight:normal;color:#000;line-height:1;white-space:nowrap;letter-spacing:-0.1px;">Mode</div><div style="position:absolute;left:426.6px;top:223px;width:37px;height:9.4px;background:#e6e6e6;border-right:1.2px solid #6a6a6a;border-bottom:1.2px solid #8a8a8a;box-sizing:border-box;"></div><div style="position:absolute;left:426.6px;top:224.4px;width:36px;text-align:center;font-size:8px;font-weight:bold;color:#111;line-height:1;white-space:nowrap;">AUTO</div><div style="position:absolute;left:158.2px;top:300.9px;width:76.8px;height:15.2px;background:#cfcfcf;border:1.3px solid #326e6e;box-sizing:border-box;"></div><div style="position:absolute;left:160.6px;top:303.5px;width:43.4px;height:11.0px;background:#fff;border-right:1.2px solid #5e5e5e;border-bottom:1.2px solid #808080;box-sizing:border-box;"></div><div style="position:absolute;left:161.6px;top:304.2px;width:40px;text-align:center;font-size:8.8px;font-weight:bold;color:#111;line-height:1;white-space:nowrap;letter-spacing:-0.6px;">-10.00</div><div style="position:absolute;left:207.2px;top:304.8px;font-size:7.7px;font-weight:bold;color:#111;line-height:1;white-space:nowrap;">mbar</div><div style="position:absolute;left:631.7px;top:300.6px;width:76.6px;height:15.4px;background:#cfcfcf;border:1.3px solid #326e6e;box-sizing:border-box;"></div><div style="position:absolute;left:634.1px;top:303.20000000000005px;width:43.2px;height:11.2px;background:#fff;border-right:1.2px solid #5e5e5e;border-bottom:1.2px solid #808080;box-sizing:border-box;"></div><div style="position:absolute;left:635.3px;top:304.0px;width:40px;text-align:center;font-size:8.8px;font-weight:bold;color:#111;line-height:1;white-space:nowrap;letter-spacing:-0.6px;">-9.00</div><div style="position:absolute;left:680.5px;top:304.6px;font-size:7.7px;font-weight:bold;color:#111;line-height:1;white-space:nowrap;">mbar</div><div style="position:absolute;left:399.4px;top:261.3px;width:75.2px;height:12.8px;background:#cfcfcf;border:1.3px solid #5eaeae;box-sizing:border-box;"></div><div style="position:absolute;left:401.79999999999995px;top:263.90000000000003px;width:37.8px;height:8.600000000000001px;background:#fff;border-right:1.2px solid #5e5e5e;border-bottom:1.2px solid #808080;box-sizing:border-box;"></div><div style="position:absolute;left:400.0px;top:263.4px;width:40px;text-align:center;font-size:8.8px;font-weight:bold;color:#111;line-height:1;white-space:nowrap;letter-spacing:-0.6px;">-9.5</div><div style="position:absolute;left:446.0px;top:264.0px;font-size:7.7px;font-weight:bold;color:#111;line-height:1;white-space:nowrap;">mbar</div><div style="position:absolute;left:935.2px;top:270.4px;width:75.6px;height:14.2px;background:#cfcfcf;border:1.3px solid #5a9e9e;box-sizing:border-box;"></div><div style="position:absolute;left:937.6px;top:273.0px;width:38.2px;height:10.0px;background:#fff;border-right:1.2px solid #5e5e5e;border-bottom:1.2px solid #808080;box-sizing:border-box;"></div><div style="position:absolute;left:938.2px;top:273.2px;width:40px;text-align:center;font-size:8.8px;font-weight:bold;color:#111;line-height:1;white-space:nowrap;letter-spacing:-0.6px;">-0.04</div><div style="position:absolute;left:981.2px;top:273.8px;font-size:7.7px;font-weight:bold;color:#111;line-height:1;white-space:nowrap;">mbar</div><div style="position:absolute;left:163.3px;top:288.2px;font-size:8.6px;font-weight:bold;color:#16888a;line-height:1;white-space:nowrap;">DPT600001</div><div style="position:absolute;left:636.6px;top:288.4px;font-size:8.6px;font-weight:bold;color:#16888a;line-height:1;white-space:nowrap;">DPT600001A</div><div style="position:absolute;left:939.0px;top:257.6px;font-size:8.1px;font-weight:bold;color:#16888a;line-height:1;white-space:nowrap;letter-spacing:0.05px;">PICA607001</div><div style="position:absolute;left:935px;top:291.8px;width:82px;text-align:center;font-size:8.6px;font-weight:bold;color:#16888a;line-height:1;white-space:nowrap;">MEDIA TRA</div><div style="position:absolute;left:935px;top:299.8px;width:82px;text-align:center;font-size:8.6px;font-weight:bold;color:#16888a;line-height:1;white-space:nowrap;">PT607001</div><div style="position:absolute;left:935px;top:307.6px;width:82px;text-align:center;font-size:8.6px;font-weight:bold;color:#16888a;line-height:1;white-space:nowrap;">PT607002</div><div style="position:absolute;left:402.6px;top:310.4px;font-size:8.4px;font-weight:bold;color:#16888a;line-height:1;white-space:nowrap;">COLL. ESTRAZ. ACIDI</div><div style="position:absolute;left:1.0px;top:107.8px;font-size:8.6px;font-weight:bold;color:#16888a;line-height:1;white-space:nowrap;">ICW</div><div style="position:absolute;left:854.2px;top:132.0px;width:74px;height:16.4px;background:#c6c6c6;border-top:1.4px solid #ececec;border-left:1.4px solid #ececec;border-bottom:1.6px solid #9a9a9a;border-right:1px solid #9a9a9a;box-sizing:border-box;"></div><div style="position:absolute;left:858.8px;top:135.4px;font-size:8.6px;font-weight:bold;color:#16888a;line-height:1;white-space:nowrap;">SCR 7</div><svg width="1024" height="520" style="position:absolute;left:0;top:0"><polygon points="889.3,133.6 927.6,133.6 927.6,128.2 932.2,139.3 927.6,150.2 927.6,145.3 889.3,145.3" fill="#fff" stroke="#7a7a7a" stroke-width="0.9"/></svg><div style="position:absolute;left:900.8px;top:135.6px;font-size:7.6px;font-weight:normal;color:#a0a0a0;line-height:1;white-space:nowrap;">SCR7</div><div style="position:absolute;left:442px;top:347.4px;width:163px;height:21.4px;background:#c6c6c6;border-top:1.2px solid #f6f6f6;border-left:1.2px solid #f6f6f6;border-bottom:1.4px solid #8a8a8a;border-right:1.4px solid #8a8a8a;box-sizing:border-box;"></div><div style="position:absolute;left:455px;top:353.6px;font-size:8.5px;font-weight:bold;color:#16888a;line-height:1;white-space:nowrap;">ESTRAZIONE ACIDI</div><svg width="1024" height="520" style="position:absolute;left:0;top:0"><polygon points="561,352.8 599.5,352.8 599.5,347.6 603.8,358.4 599.5,369 599.5,364 561,364" fill="#fff" stroke="#6a6a6a" stroke-width="0.9"/></svg><div style="position:absolute;left:564.5px;top:354.2px;font-size:7.6px;font-weight:normal;color:#a0a0a0;line-height:1;white-space:nowrap;">ACIDSCR</div><div style="position:absolute;left:436.6px;top:379.9px;width:206.2px;height:84.8px;background:linear-gradient(#89bcbc 0%,#a9cccc 40%,#d6dede 85%,#dcdcdc 100%);border-right:1px solid #b4b4b4;border-bottom:1px solid #b4b4b4;box-sizing:border-box;"></div><div style="position:absolute;left:434.9px;top:382.6px;width:205.8px;text-align:center;font-size:8.5px;font-weight:bold;color:#16888a;line-height:1;white-space:nowrap;">IMPIANTO CARICO SODA</div><div style="position:absolute;left:441.7px;top:394.2px;width:195.7px;height:15.5px;background:#fefefe;"></div><div style="position:absolute;left:446.8px;top:398.2px;font-size:8.3px;font-weight:bold;color:#16888a;line-height:1;white-space:nowrap;letter-spacing:0.12px;">basso liv. serb.carico soda A</div><div style="position:absolute;left:614.2px;top:395.5px;width:19.2px;height:13.8px;background:#00b400;border:1.2px solid #2a3a2a;border-radius:1px;box-sizing:border-box;"></div><div style="position:absolute;left:441.7px;top:410.8px;width:195.7px;height:15.0px;background:#fefefe;"></div><div style="position:absolute;left:446.8px;top:414.8px;font-size:8.3px;font-weight:bold;color:#16888a;line-height:1;white-space:nowrap;letter-spacing:0.12px;">basso liv. serb.carico soda B</div><div style="position:absolute;left:614.2px;top:412.1px;width:19.2px;height:13.8px;background:#00b400;border:1.2px solid #2a3a2a;border-radius:1px;box-sizing:border-box;"></div><div style="position:absolute;left:441.7px;top:428.4px;width:195.7px;height:15.600000000000023px;background:#fefefe;"></div><div style="position:absolute;left:444.6px;top:432.4px;font-size:8.3px;font-weight:bold;color:#16888a;line-height:1;white-space:nowrap;letter-spacing:0.12px;">perdita circuito da -5.5 a +24</div><div style="position:absolute;left:614.2px;top:429.7px;width:19.2px;height:13.8px;background:#00b400;border:1.2px solid #2a3a2a;border-radius:1px;box-sizing:border-box;"></div><div style="position:absolute;left:441.7px;top:445.0px;width:195.7px;height:15.199999999999989px;background:#fefefe;"></div><div style="position:absolute;left:444.6px;top:449.0px;font-size:8.3px;font-weight:bold;color:#16888a;line-height:1;white-space:nowrap;letter-spacing:0.12px;">perdita circuito a +24</div><div style="position:absolute;left:614.2px;top:446.3px;width:19.2px;height:13.8px;background:#00b400;border:1.2px solid #2a3a2a;border-radius:1px;box-sizing:border-box;"></div><div style="position:absolute;left:441.7px;top:409.7px;width:195.7px;height:1.1px;background:#b4b4b4;"></div><div style="position:absolute;left:441.7px;top:425.8px;width:195.7px;height:1.1px;background:#b4b4b4;"></div><div style="position:absolute;left:441.7px;top:444.0px;width:195.7px;height:1.1px;background:#b4b4b4;"></div><div style="position:absolute;left:2px;top:379px;width:343px;height:122.6px;background:#e0e0e0;border:1.2px solid #6eb3b3;box-sizing:border-box;"></div><div style="position:absolute;left:8px;top:384.2px;width:330.2px;height:15.2px;background:#008080;"></div><div style="position:absolute;left:8px;top:388.2px;width:330.2px;text-align:center;font-size:7.6px;font-weight:bold;color:#f0f0f0;line-height:1;white-space:nowrap;letter-spacing:1.06px;">Comandi / Impostazioni</div><div style="position:absolute;left:90.3px;top:403.4px;width:78.4px;height:19.2px;background:#d4d4d4;border:1px solid #64b0b0;box-sizing:border-box;"></div><div style="position:absolute;left:91.3px;top:404.4px;width:76.4px;height:17.2px;border-top:1px solid #f6f6f6;border-left:1px solid #f6f6f6;border-bottom:1.4px solid #8a8a8a;border-right:1.4px solid #8a8a8a;box-sizing:border-box;"></div><div style="position:absolute;left:89.0px;top:408.65px;width:78.4px;text-align:center;font-size:9.3px;font-weight:bold;color:#16888a;line-height:1;white-space:nowrap;">ABIL. AUTO</div><div style="position:absolute;left:175.9px;top:406px;width:87.2px;height:15.2px;background:#00b400;border:1px solid #1e4e1e;box-sizing:border-box;"></div><div style="position:absolute;left:175.9px;top:409.4px;width:87.2px;text-align:center;font-size:9.7px;font-weight:bold;color:#000;line-height:1;white-space:nowrap;font-family:Liberation Mono,monospace;letter-spacing:-0.6px;">ON</div><div style="position:absolute;left:7.3px;top:427.2px;width:113.6px;height:16.2px;background:#d4d4d4;border:1px solid #64b0b0;box-sizing:border-box;"></div><div style="position:absolute;left:8.3px;top:428.2px;width:111.6px;height:14.2px;border-top:1px solid #f6f6f6;border-left:1px solid #f6f6f6;border-bottom:1.4px solid #8a8a8a;border-right:1.4px solid #8a8a8a;box-sizing:border-box;"></div><div style="position:absolute;left:7.3px;top:431.2px;width:113.6px;text-align:center;font-size:8.8px;font-weight:bold;color:#16888a;line-height:1;white-space:nowrap;">1° PRI. SCRUBBER</div><div style="position:absolute;left:7.3px;top:442.8px;width:113.6px;height:16.2px;background:#d4d4d4;border:1px solid #64b0b0;box-sizing:border-box;"></div><div style="position:absolute;left:8.3px;top:443.8px;width:111.6px;height:14.2px;border-top:1px solid #f6f6f6;border-left:1px solid #f6f6f6;border-bottom:1.4px solid #8a8a8a;border-right:1.4px solid #8a8a8a;box-sizing:border-box;"></div><div style="position:absolute;left:7.3px;top:446.8px;width:113.6px;text-align:center;font-size:8.8px;font-weight:bold;color:#16888a;line-height:1;white-space:nowrap;">2° PRI. SCRUBBER</div><div style="position:absolute;left:7.3px;top:458.3px;width:113.6px;height:16.2px;background:#d4d4d4;border:1px solid #64b0b0;box-sizing:border-box;"></div><div style="position:absolute;left:8.3px;top:459.3px;width:111.6px;height:14.2px;border-top:1px solid #f6f6f6;border-left:1px solid #f6f6f6;border-bottom:1.4px solid #8a8a8a;border-right:1.4px solid #8a8a8a;box-sizing:border-box;"></div><div style="position:absolute;left:7.3px;top:462.3px;width:113.6px;text-align:center;font-size:8.8px;font-weight:bold;color:#16888a;line-height:1;white-space:nowrap;">3° PRI. SCRUBBER</div><div style="position:absolute;left:177.1px;top:427.2px;width:113.2px;height:16.2px;background:#d4d4d4;border:1px solid #64b0b0;box-sizing:border-box;"></div><div style="position:absolute;left:178.1px;top:428.2px;width:111.2px;height:14.2px;border-top:1px solid #f6f6f6;border-left:1px solid #f6f6f6;border-bottom:1.4px solid #8a8a8a;border-right:1.4px solid #8a8a8a;box-sizing:border-box;"></div><div style="position:absolute;left:177.1px;top:431.2px;width:113.2px;text-align:center;font-size:8.8px;font-weight:bold;color:#16888a;line-height:1;white-space:nowrap;">4° PRI. SCRUBBER</div><div style="position:absolute;left:177.1px;top:442.8px;width:113.2px;height:16.2px;background:#d4d4d4;border:1px solid #64b0b0;box-sizing:border-box;"></div><div style="position:absolute;left:178.1px;top:443.8px;width:111.2px;height:14.2px;border-top:1px solid #f6f6f6;border-left:1px solid #f6f6f6;border-bottom:1.4px solid #8a8a8a;border-right:1.4px solid #8a8a8a;box-sizing:border-box;"></div><div style="position:absolute;left:177.1px;top:446.8px;width:113.2px;text-align:center;font-size:8.8px;font-weight:bold;color:#16888a;line-height:1;white-space:nowrap;">5° PRI. SCRUBBER</div><div style="position:absolute;left:123px;top:427.4px;width:46.8px;height:15.2px;background:#cfcfcf;border:1.2px solid #3d6e6e;box-sizing:border-box;"></div><div style="position:absolute;left:127.4px;top:430.4px;width:38.2px;height:10.6px;background:#fff;border-right:1.4px solid #6a6a6a;border-bottom:1.4px solid #6a6a6a;box-sizing:border-box;"></div><div style="position:absolute;left:123.9px;top:430.4px;width:38.2px;text-align:center;font-size:8.8px;font-weight:bold;color:#111;line-height:1;white-space:nowrap;">1</div><div style="position:absolute;left:123px;top:443.6px;width:46.8px;height:15.2px;background:#cfcfcf;border:1.2px solid #3d6e6e;box-sizing:border-box;"></div><div style="position:absolute;left:127.4px;top:446.6px;width:38.2px;height:10.6px;background:#fff;border-right:1.4px solid #6a6a6a;border-bottom:1.4px solid #6a6a6a;box-sizing:border-box;"></div><div style="position:absolute;left:123.9px;top:446.6px;width:38.2px;text-align:center;font-size:8.8px;font-weight:bold;color:#111;line-height:1;white-space:nowrap;">2</div><div style="position:absolute;left:123px;top:459.8px;width:46.8px;height:15.2px;background:#cfcfcf;border:1.2px solid #3d6e6e;box-sizing:border-box;"></div><div style="position:absolute;left:127.4px;top:462.8px;width:38.2px;height:10.6px;background:#fff;border-right:1.4px solid #6a6a6a;border-bottom:1.4px solid #6a6a6a;box-sizing:border-box;"></div><div style="position:absolute;left:123.9px;top:462.8px;width:38.2px;text-align:center;font-size:8.8px;font-weight:bold;color:#111;line-height:1;white-space:nowrap;">4</div><div style="position:absolute;left:291px;top:427.4px;width:46.8px;height:15.2px;background:#cfcfcf;border:1.2px solid #3d6e6e;box-sizing:border-box;"></div><div style="position:absolute;left:295.4px;top:430.4px;width:38.2px;height:10.6px;background:#fff;border-right:1.4px solid #6a6a6a;border-bottom:1.4px solid #6a6a6a;box-sizing:border-box;"></div><div style="position:absolute;left:291.9px;top:430.4px;width:38.2px;text-align:center;font-size:8.8px;font-weight:bold;color:#111;line-height:1;white-space:nowrap;">3</div><div style="position:absolute;left:291px;top:443.2px;width:46.8px;height:15.2px;background:#cfcfcf;border:1.2px solid #3d6e6e;box-sizing:border-box;"></div><div style="position:absolute;left:295.4px;top:446.2px;width:38.2px;height:10.6px;background:#fff;border-right:1.4px solid #6a6a6a;border-bottom:1.4px solid #6a6a6a;box-sizing:border-box;"></div><div style="position:absolute;left:291.9px;top:446.2px;width:38.2px;text-align:center;font-size:8.8px;font-weight:bold;color:#111;line-height:1;white-space:nowrap;">5</div><div style="position:absolute;left:110.2px;top:480.8px;width:147px;height:16.8px;background:#d4d4d4;border:1.8px solid #2e9a9a;box-sizing:border-box;"></div><div style="position:absolute;left:112.0px;top:482.6px;width:143.4px;height:13.200000000000001px;border-top:1px solid #f6f6f6;border-left:1px solid #f6f6f6;border-bottom:1.4px solid #8a8a8a;border-right:1.4px solid #8a8a8a;box-sizing:border-box;"></div><div style="position:absolute;left:109.60000000000001px;top:484.82500000000005px;width:147px;text-align:center;font-size:9.35px;font-weight:normal;color:#3a3a3a;line-height:1;white-space:nowrap;">ORE FUNZIONAMENTO</div><div style="position:absolute;left:228.2px;top:9.2px;width:578.8px;height:18.2px;background:#008080;border:1px solid #1f4d4d;box-sizing:border-box;"></div><div style="position:absolute;left:468.6px;top:12.6px;font-size:9.5px;font-weight:bold;color:#e6f6f6;line-height:1;white-space:nowrap;">SCRUBBER ACIDI</div>
</div>
</body></html>
